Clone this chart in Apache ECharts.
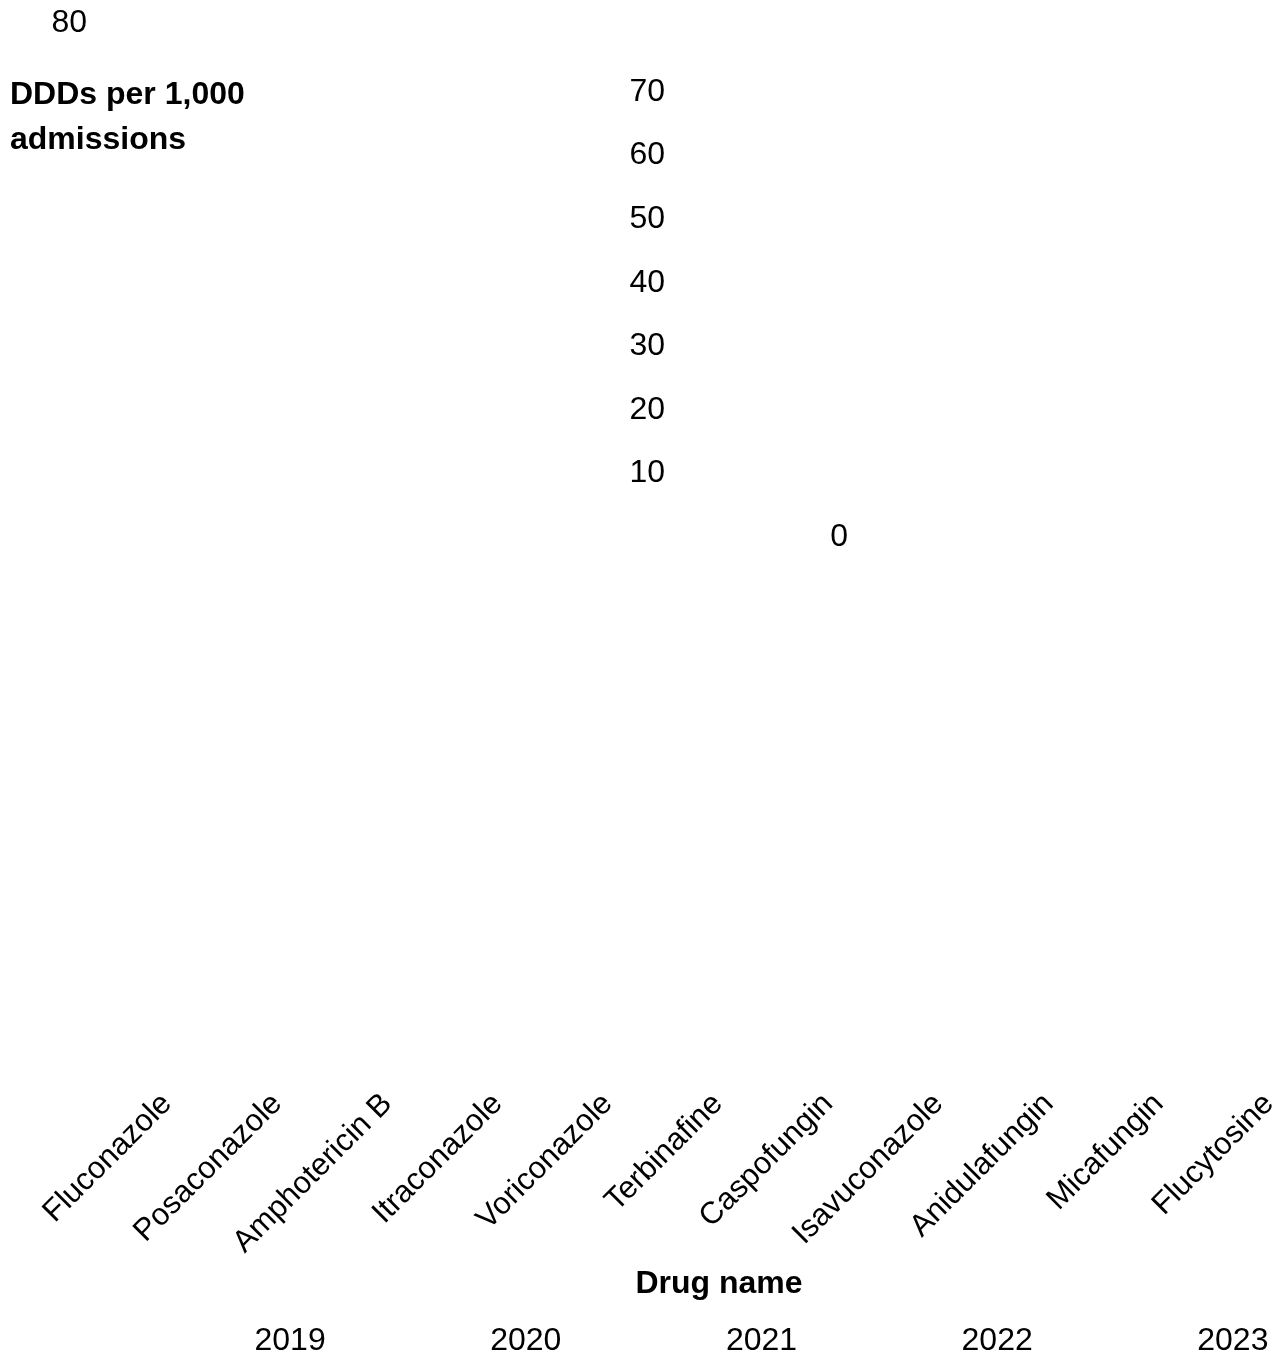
<!DOCTYPE html>
<html>
<head>
<meta charset="utf-8">
<script src="https://cdn.jsdelivr.net/npm/echarts@6/dist/echarts.min.js"></script>
<style>
html,body{margin:0;padding:0;background:#fff;}
#chart{width:1282px;height:1356px;}
</style>
</head>
<body>
<div id="chart"></div>
<script>
// Categories (drug names)
const drugs = ['Fluconazole','Posaconazole','Amphotericin B','Itraconazole','Voriconazole','Terbinafine','Caspofungin','Isavuconazole','Anidulafungin','Micafungin','Flucytosine'];
// Legend / series names
const years = ['2019','2020','2021','2022','2023'];
// Series values: no bars are visible in the reference, so no values can be read
const values2019 = [null,null,null,null,null,null,null,null,null,null,null];
const values2020 = [null,null,null,null,null,null,null,null,null,null,null];
const values2021 = [null,null,null,null,null,null,null,null,null,null,null];
const values2022 = [null,null,null,null,null,null,null,null,null,null,null];
const values2023 = [null,null,null,null,null,null,null,null,null,null,null];
// Value axis tick settings
const yMin = 0, yMax = 80, yStep = 10;
const yTitle = 'DDDs per 1,000\nadmissions';
const xTitle = 'Drug name';

const seriesValues = [values2019, values2020, values2021, values2022, values2023];
const FONT = '"Liberation Sans", Arial, sans-serif';
const FS = 32;
const chart = echarts.init(document.getElementById('chart'), null, {renderer: 'canvas'});

function valueAxis(offset, show, rich) {
  return {
    type: 'value', position: 'left', min: yMin, max: yMax, interval: yStep,
    offset: offset,
    axisLine: {show: false}, axisTick: {show: false}, splitLine: {show: false},
    axisLabel: {
      color: '#000', fontSize: FS, fontFamily: FONT, margin: 8,
      rich: rich ? {a: rich} : undefined,
      formatter: v => show(v) ? (rich ? '{a|' + v + '}' : String(v)) : ''
    }
  };
}

chart.setOption({
  animation: false,
  backgroundColor: '#fff',
  title: {
    text: yTitle, left: 10, top: 73, padding: 0,
    textStyle: {color: '#000', fontSize: FS, fontWeight: 'bold', fontFamily: FONT, lineHeight: 45}
  },
  legend: {
    data: years, left: 219.5, top: 1320, itemGap: 134.5, itemWidth: 25, itemHeight: 14,
    itemStyle: {opacity: 0},
    textStyle: {color: '#000', fontSize: FS, fontFamily: FONT}
  },
  grid: {left: 167, right: 12, top: 28.5, bottom: 819, containLabel: false},
  xAxis: {
    type: 'category', data: drugs, boundaryGap: false, position: 'bottom', offset: 554,
    axisLine: {show: false, onZero: false}, axisTick: {show: false}, splitLine: {show: false},
    axisLabel: {interval: 0, rotate: 45, color: '#000', fontSize: 31, fontFamily: FONT, margin: 8},
    name: xTitle, nameLocation: 'middle', nameGap: 177.5,
    nameTextStyle: {color: '#000', fontSize: FS, fontWeight: 'bold', fontFamily: FONT, padding: [0, 0, 0, 2]}
  },
  yAxis: [
    valueAxis(-506, v => v > yMin && v < yMax),
    valueAxis(72, v => v === yMax, {color: '#000', fontSize: FS, fontFamily: FONT, padding: [0, 0, 10, 0]}),
    valueAxis(-689, v => v === yMin)
  ],
  series: years.map((y, i) => ({
    name: y, type: 'bar', xAxisIndex: 0, yAxisIndex: 0, data: seriesValues[i]
  }))
});
</script>
</body>
</html>
